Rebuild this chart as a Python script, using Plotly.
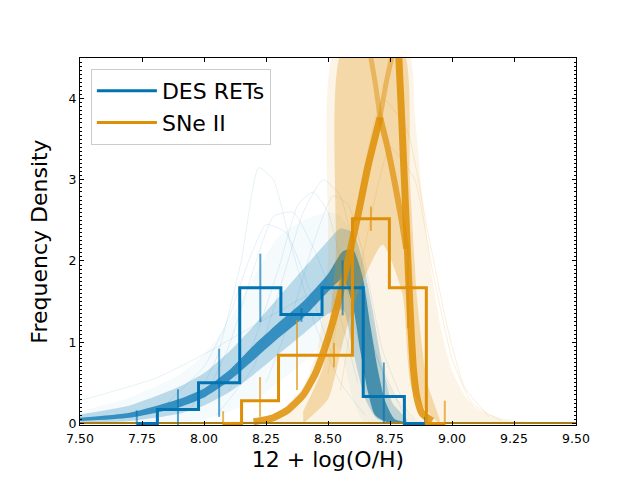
import plotly.graph_objects as go

# ---------- kleuren (seaborn colorblind) ----------
BLUE = (1, 115, 178)
ORANGE = (222, 143, 5)


def rgba(c, a):
    return f"rgba({c[0]},{c[1]},{c[2]},{a})"


# ---------- histogrammen (bin-centra, dichtheid, foutbalken) ----------
blue_centers = [7.729, 7.895, 8.061, 8.227, 8.393, 8.559, 8.725, 8.891]
blue_density = [0.0, 0.17, 0.50, 1.67, 1.34, 1.67, 0.33, 0.0]
blue_err_up = [0.16, 0.25, 0.42, 0.42, 0.08, 0.34, 0.42, 0.08]
blue_err_dn = [0.04, 0.20, 0.42, 0.42, 0.09, 0.34, 0.33, 0.02]

orange_centers = [8.077, 8.226, 8.375, 8.524, 8.673, 8.822, 8.971]
orange_density = [0.0, 0.28, 0.84, 0.84, 2.52, 1.67, 0.0]
orange_err_up = [0.15, 0.29, 0.43, 0.15, 0.15, 0.50, 0.28]
orange_err_dn = [0.04, 0.20, 0.43, 0.15, 0.15, 0.50, 0.02]

# DES RETs: zeer zwakke buitenzone
blue_outer_up_x = [7.50, 7.70, 7.90, 8.00, 8.10, 8.20, 8.30, 8.40, 8.50, 8.55, 8.60, 8.65, 8.70, 8.75, 8.80, 8.85, 8.90]
blue_outer_up_y = [0.15, 0.32, 0.60, 0.85, 1.25, 1.80, 2.30, 2.50, 2.60, 2.55, 2.30, 1.70, 1.00, 0.50, 0.20, 0.05, 0.00]
blue_outer_lo_x = [8.90, 8.65, 8.60, 8.55, 8.50, 8.40, 8.30, 8.20, 8.00, 7.50]
blue_outer_lo_y = [0.00, 0.00, 0.30, 0.90, 1.00, 0.75, 0.50, 0.28, 0.05, 0.00]
# DES RETs: middenzone
blue_mid_up_x = [7.50, 7.70, 7.90, 8.00, 8.10, 8.20, 8.30, 8.40, 8.50, 8.55, 8.60, 8.64, 8.68, 8.72, 8.76, 8.82]
blue_mid_up_y = [0.11, 0.22, 0.45, 0.62, 0.88, 1.20, 1.55, 1.90, 2.25, 2.40, 2.35, 2.00, 1.40, 0.70, 0.25, 0.03]
blue_mid_lo_x = [8.78, 8.70, 8.65, 8.60, 8.56, 8.50, 8.40, 8.30, 8.20, 8.10, 8.00, 7.90, 7.70, 7.50]
blue_mid_lo_y = [0.00, 0.05, 0.30, 0.90, 1.40, 1.35, 1.10, 0.85, 0.60, 0.38, 0.22, 0.12, 0.03, 0.01]
# DES RETs: dichte kern
blue_core_up_x = [7.50, 7.70, 7.90, 8.00, 8.10, 8.20, 8.30, 8.40, 8.50, 8.56, 8.60, 8.64, 8.67, 8.70, 8.73, 8.77, 8.85]
blue_core_up_y = [0.07, 0.13, 0.30, 0.43, 0.65, 0.96, 1.24, 1.50, 1.84, 2.12, 2.14, 1.80, 1.22, 0.68, 0.28, 0.05, 0.00]
blue_core_lo_x = [8.75, 8.69, 8.66, 8.63, 8.60, 8.56, 8.50, 8.40, 8.30, 8.20, 8.10, 8.00, 7.90, 7.70, 7.50]
blue_core_lo_y = [0.00, 0.10, 0.40, 0.90, 1.45, 1.78, 1.62, 1.30, 1.05, 0.78, 0.52, 0.32, 0.20, 0.07, 0.03]
# losse zwakke DES-curves
blue_line1_x = [7.95, 8.05, 8.15, 8.22, 8.28, 8.35, 8.45, 8.55, 8.65]
blue_line1_y = [0.20, 0.80, 2.00, 3.15, 3.00, 2.20, 1.20, 0.50, 0.10]
blue_line2_x = [8.05, 8.20, 8.30, 8.40, 8.48, 8.55, 8.62, 8.70, 8.80]
blue_line2_y = [0.10, 0.70, 1.60, 2.60, 3.00, 2.80, 1.90, 0.80, 0.15]
blue_line3_x = [7.50, 7.80, 8.00, 8.20, 8.40, 8.55, 8.65, 8.75, 8.85]
blue_line3_y = [0.28, 0.55, 0.85, 1.20, 1.55, 1.75, 1.20, 0.40, 0.05]
blue_line4_x = [8.00, 8.10, 8.20, 8.28, 8.36, 8.45, 8.55, 8.62]
blue_line4_y = [0.30, 0.95, 1.90, 2.55, 2.60, 2.10, 1.30, 0.50]
blue_line5_x = [8.10, 8.20, 8.30, 8.38, 8.44, 8.50, 8.58, 8.66]
blue_line5_y = [0.40, 1.00, 1.90, 2.70, 2.85, 2.60, 1.60, 0.50]
blue_line6_x = [7.85, 8.00, 8.10, 8.18, 8.25, 8.33, 8.42, 8.52]
blue_line6_y = [0.25, 0.70, 1.30, 2.00, 2.45, 2.35, 1.70, 0.80]
blue_line7_x = [8.25, 8.35, 8.45, 8.52, 8.58, 8.64, 8.72, 8.82]
blue_line7_y = [0.50, 1.30, 2.30, 2.80, 2.70, 2.10, 0.90, 0.15]

# SNe II: brede, zwakke zone
orange_outer_up_x = [8.00, 8.20, 8.30, 8.40, 8.46, 8.50, 8.53, 8.82, 8.85, 8.88, 8.92, 8.96, 9.00, 9.05, 9.10, 9.20, 9.30, 9.50]
orange_outer_up_y = [0.00, 0.04, 0.14, 0.45, 0.95, 2.00, 4.60, 4.60, 3.80, 2.80, 1.80, 1.10, 0.65, 0.35, 0.18, 0.06, 0.02, 0.00]
orange_outer_lo_x = [9.50, 8.60, 8.00]
orange_outer_lo_y = [0.00, 0.00, 0.00]
# SNe II: dichte zone
orange_mid_up_x = [8.40, 8.48, 8.53, 8.56, 8.80, 8.83, 8.86, 8.90, 8.95]
orange_mid_up_y = [0.15, 0.70, 2.00, 4.60, 4.60, 3.00, 1.50, 0.50, 0.05]
orange_mid_lo_x = [8.95, 8.84, 8.80, 8.72, 8.62, 8.56, 8.50, 8.40]
orange_mid_lo_y = [0.00, 0.40, 1.60, 2.20, 1.60, 1.00, 0.30, 0.00]
# SNe II: losse zwakke curves rechts
orange_line1_x = [8.55, 8.65, 8.75, 8.85, 8.92, 9.00, 9.08, 9.20]
orange_line1_y = [0.40, 2.20, 3.40, 3.00, 1.90, 0.80, 0.25, 0.03]
orange_line2_x = [8.50, 8.60, 8.72, 8.82, 8.90, 8.98, 9.05, 9.15]
orange_line2_y = [0.60, 2.40, 4.00, 3.60, 2.40, 1.20, 0.45, 0.08]
# SNe II: dikke flanken (Lambda-vorm)
orange_left_x = [8.20, 8.28, 8.34, 8.40, 8.45, 8.50, 8.54, 8.58, 8.62, 8.66, 8.71]
orange_left_y = [0.02, 0.07, 0.17, 0.35, 0.62, 1.05, 1.48, 2.00, 2.55, 3.15, 3.77]
orange_apex_r_x = [8.71, 8.74, 8.77, 8.80, 8.815]
orange_apex_r_y = [3.77, 3.40, 2.95, 2.45, 2.15]
orange_right_x = [8.785, 8.795, 8.805, 8.815, 8.825, 8.835, 8.845, 8.86, 8.88, 8.92]
orange_right_y = [4.55, 3.90, 3.20, 2.50, 1.80, 1.15, 0.65, 0.30, 0.12, 0.03]
orange_up1_x = [8.71, 8.735, 8.76]
orange_up1_y = [3.77, 4.20, 4.55]
orange_up2_x = [8.71, 8.69, 8.67]
orange_up2_y = [3.77, 4.20, 4.55]

fig = go.Figure()


def band(xu, yu, xl, yl, color, alpha):
    fig.add_trace(go.Scatter(
        x=xu + xl, y=yu + yl, fill='toself', mode='lines',
        line=dict(width=0, shape='spline', smoothing=0.6),
        fillcolor=rgba(color, alpha), hoverinfo='skip', showlegend=False))


def thin(x, y, color, alpha, w=1):
    fig.add_trace(go.Scatter(
        x=x, y=y, mode='lines',
        line=dict(color=rgba(color, alpha), width=w, shape='spline', smoothing=0.5),
        hoverinfo='skip', showlegend=False))


# DES RETs KDE's
band(blue_outer_up_x, blue_outer_up_y, blue_outer_lo_x, blue_outer_lo_y, BLUE, 0.04)
for lx, ly in [(blue_line1_x, blue_line1_y), (blue_line2_x, blue_line2_y),
               (blue_line3_x, blue_line3_y), (blue_line4_x, blue_line4_y),
               (blue_line5_x, blue_line5_y), (blue_line6_x, blue_line6_y),
               (blue_line7_x, blue_line7_y)]:
    thin(lx, ly, BLUE, 0.10)
band(blue_mid_up_x, blue_mid_up_y, blue_mid_lo_x, blue_mid_lo_y, BLUE, 0.24)
band(blue_core_up_x, blue_core_up_y, blue_core_lo_x, blue_core_lo_y, BLUE, 0.72)

# SNe II KDE's
band(orange_outer_up_x, orange_outer_up_y, orange_outer_lo_x, orange_outer_lo_y, ORANGE, 0.10)
band(orange_mid_up_x, orange_mid_up_y, orange_mid_lo_x, orange_mid_lo_y, ORANGE, 0.28)
thin(orange_line1_x, orange_line1_y, ORANGE, 0.15)
thin(orange_line2_x, orange_line2_y, ORANGE, 0.15)
thin(orange_up1_x, orange_up1_y, ORANGE, 0.45, 5)
thin(orange_up2_x, orange_up2_y, ORANGE, 0.45, 5)
thin(orange_apex_r_x, orange_apex_r_y, ORANGE, 0.70, 6)
thin(orange_left_x, orange_left_y, ORANGE, 0.85, 7)
thin(orange_right_x, orange_right_y, ORANGE, 0.85, 7)

# basislijn van de staarten
fig.add_trace(go.Scatter(x=[7.5, 9.5], y=[0.005, 0.005], mode='lines',
                         line=dict(color='rgb(170,125,20)', width=2),
                         hoverinfo='skip', showlegend=False))

# ---------- histogram-stappen + foutbalken ----------
for cen, dens, up, dn, col, name in [
        (blue_centers, blue_density, blue_err_up, blue_err_dn, BLUE, 'DES RETs'),
        (orange_centers, orange_density, orange_err_up, orange_err_dn, ORANGE, 'SNe II')]:
    fig.add_trace(go.Scatter(
        x=cen, y=dens, mode='markers', marker=dict(size=1, opacity=0),
        error_y=dict(type='data', array=up, arrayminus=dn, color=rgba(col, 0.65),
                     thickness=2, width=0),
        hoverinfo='skip', showlegend=False))
    fig.add_trace(go.Scatter(
        x=cen, y=dens, mode='lines', name=name,
        line=dict(color=rgba(col, 1), width=3, shape='hvh')))

# pagina heeft 8px body-marge: marges daarop afgestemd
fig.update_layout(
    width=632, height=472,
    margin=dict(l=72, r=64, t=50, b=55),
    plot_bgcolor='white', paper_bgcolor='white',
    font=dict(family='DejaVu Sans', color='black', size=12.5),
    showlegend=True,
    legend=dict(x=0.022, y=0.97, xanchor='left', yanchor='top',
                font=dict(size=22), bgcolor='rgba(255,255,255,0.8)',
                bordercolor='#cccccc', borderwidth=1, itemwidth=60),
)
fig.update_xaxes(
    range=[7.5, 9.5], tickvals=[7.5, 7.75, 8.0, 8.25, 8.5, 8.75, 9.0, 9.25, 9.5],
    ticktext=['7.50', '7.75', '8.00', '8.25', '8.50', '8.75', '9.00', '9.25', '9.50'],
    ticks='inside', ticklen=4, tickcolor='black', showline=True, linecolor='black',
    linewidth=1, mirror='allticks', showgrid=False, zeroline=False,
    ticklabelstandoff=2,
    title=dict(text='12 + log(O/H)', font=dict(size=22), standoff=6))
fig.update_yaxes(
    range=[-0.02, 4.5], tickvals=[0, 1, 2, 3, 4],
    ticks='inside', ticklen=4, tickcolor='black', showline=True, linecolor='black',
    linewidth=1, mirror='allticks', showgrid=False, zeroline=False,
    minor=dict(dtick=0.05, ticks='inside', ticklen=2, tickcolor='black', showgrid=False),
    title=dict(text='Frequency Density', font=dict(size=22), standoff=14))

fig.write_html("out.html")
